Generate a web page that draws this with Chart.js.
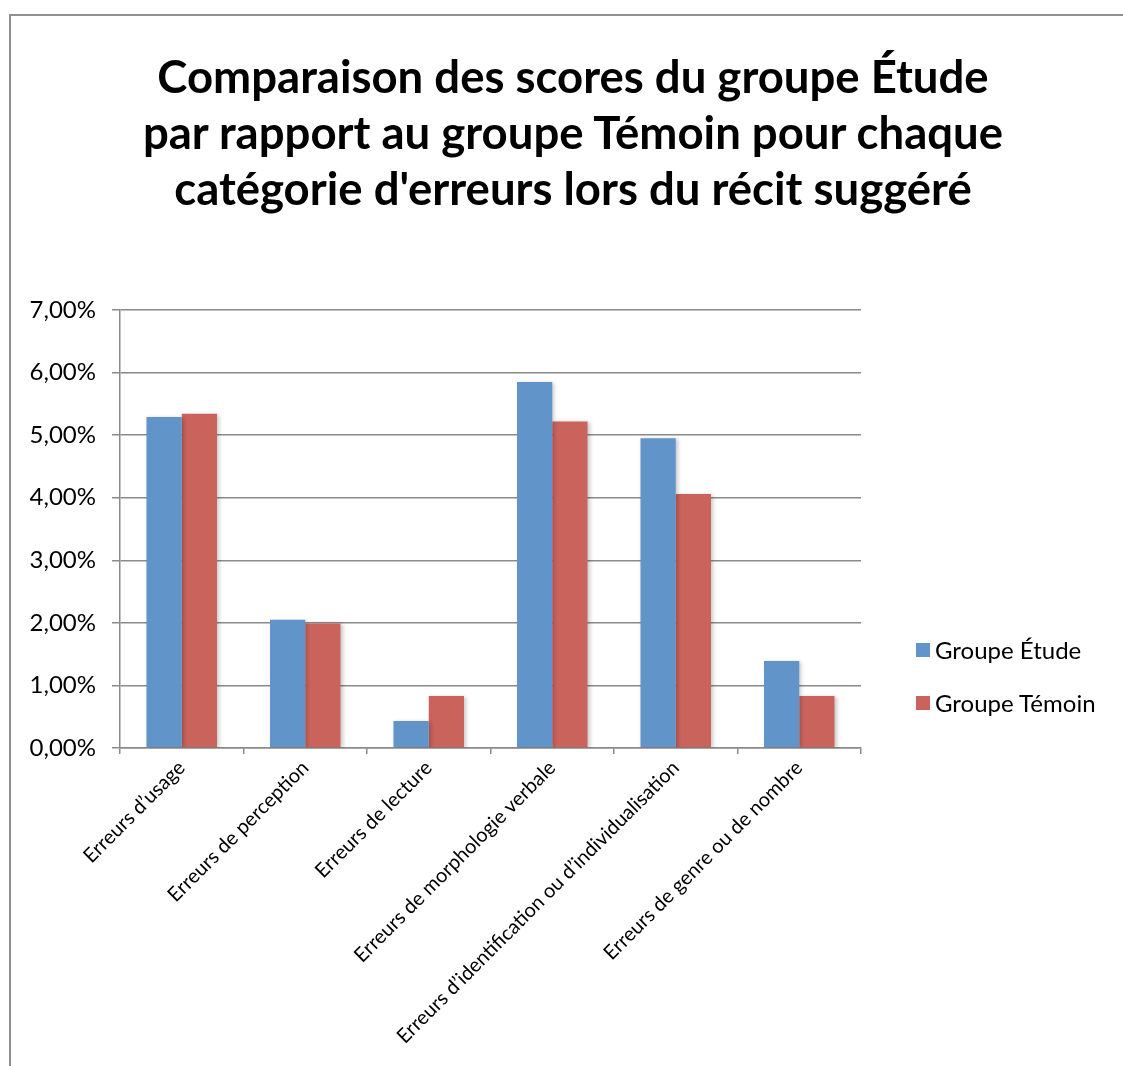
<!DOCTYPE html>
<html lang="fr">
<head>
<meta charset="utf-8">
<title>Comparaison des scores</title>
<script src="https://cdn.jsdelivr.net/npm/chart.js@4/dist/chart.umd.min.js"></script>
<style>
  html, body { margin: 0; padding: 0; background: #fff; }
  #wrap { position: relative; width: 1123px; height: 1066px; overflow: hidden; }
  #frame { position: absolute; left: 9px; top: 14px; width: 1200px; height: 1200px;
           border-left: 2px solid #8f8f8f; border-top: 2px solid #8f8f8f; }
  #chart { position: absolute; left: 0; top: 0; }
  #title { position: absolute; left: 73px; width: 1000px; top: 48px; text-align: center;
           font-family: Lato, "Open Sans", sans-serif; font-weight: bold; font-size: 45.5px;
           line-height: 56px; color: #000; }
  .legend { position: absolute; left: 916px; font-family: Lato, "Open Sans", sans-serif;
            font-size: 24px; color: #000; display: flex; align-items: center; }
  .legend span.box { display: inline-block; width: 14px; height: 14px; margin-right: 5px; }
</style>
</head>
<body>
<div id="wrap">
  <div id="frame"></div>
  <canvas id="chart" width="1123" height="1066"></canvas>
  <div id="title"></div>
  <div class="legend" style="top:635px"><span class="box" style="background:#6194C9"></span>Groupe Étude</div>
  <div class="legend" style="top:688px"><span class="box" style="background:#CB635D"></span>Groupe Témoin</div>
</div>
<script>
const categories = [
  "Erreurs d\u2019usage",
  "Erreurs de perception",
  "Erreurs de lecture",
  "Erreurs de morphologie verbale",
  "Erreurs d\u2019identification ou d\u2019individualisation",
  "Erreurs de genre ou de nombre"
];
// values in percent
const groupeEtude = [5.29, 2.05, 0.43, 5.85, 4.95, 1.39];
const groupeTemoin = [5.34, 1.99, 0.83, 5.22, 4.06, 0.83];
const titleLines = [
  "Comparaison des scores du groupe Étude",
  "par rapport au groupe Témoin pour chaque",
  "catégorie d'erreurs lors du récit suggéré"
];

const blue = '#6194C9';
const red = '#CB635D';
const gridColor = '#8a8a8a';

// title is centred on the whole chart, not the plot area
const titleEl = document.getElementById('title');
titleLines.forEach(line => {
  const d = document.createElement('div');
  d.textContent = line;
  titleEl.appendChild(d);
});

// soft shadow behind bars, like the original
const barShadow = {
  id: 'barShadow',
  beforeDatasetsDraw(chart) {
    const ctx = chart.ctx;
    ctx.save();
    ctx.shadowColor = 'rgba(0,0,0,0.22)';
    ctx.shadowBlur = 4;
    ctx.shadowOffsetX = 2;
    ctx.shadowOffsetY = 1;
  },
  afterDatasetsDraw(chart) {
    chart.ctx.restore();
  }
};

const ctx = document.getElementById('chart').getContext('2d');
new Chart(ctx, {
  type: 'bar',
  data: {
    labels: categories,
    datasets: [
      { label: 'Groupe Étude', data: groupeEtude, backgroundColor: blue, borderWidth: 0 },
      { label: 'Groupe Témoin', data: groupeTemoin, backgroundColor: red, borderWidth: 0 }
    ]
  },
  options: {
    responsive: false,
    animation: false,
    layout: { padding: { left: 0, right: 262, top: 310, bottom: 0 } },
    datasets: { bar: { categoryPercentage: 0.571, barPercentage: 1.0 } },
    plugins: {
      legend: { display: false },
      tooltip: { enabled: false },
      title: { display: false }
    },
    scales: {
      x: {
        afterFit(scale) { scale.height = 318; },
        grid: { offset: true, drawOnChartArea: false, color: gridColor, lineWidth: 1.5, tickLength: 6 },
        border: { color: gridColor, width: 1.5 },
        ticks: {
          minRotation: 45, maxRotation: 45, autoSkip: false,
          color: '#000', padding: 2,
          font: { family: 'Lato, "Open Sans", sans-serif', size: 20 }
        }
      },
      y: {
        min: 0, max: 7,
        afterFit(scale) { scale.width = 120; },
        grid: { color: gridColor, lineWidth: 1.5, tickLength: 8 },
        border: { color: gridColor, width: 1.5 },
        ticks: {
          stepSize: 1, color: '#000', padding: 16,
          font: { family: 'Lato, "Open Sans", sans-serif', size: 24 },
          callback: v => v.toFixed(2).replace('.', ',') + '%'
        }
      }
    }
  },
  plugins: [barShadow]
});
</script>
</body>
</html>
